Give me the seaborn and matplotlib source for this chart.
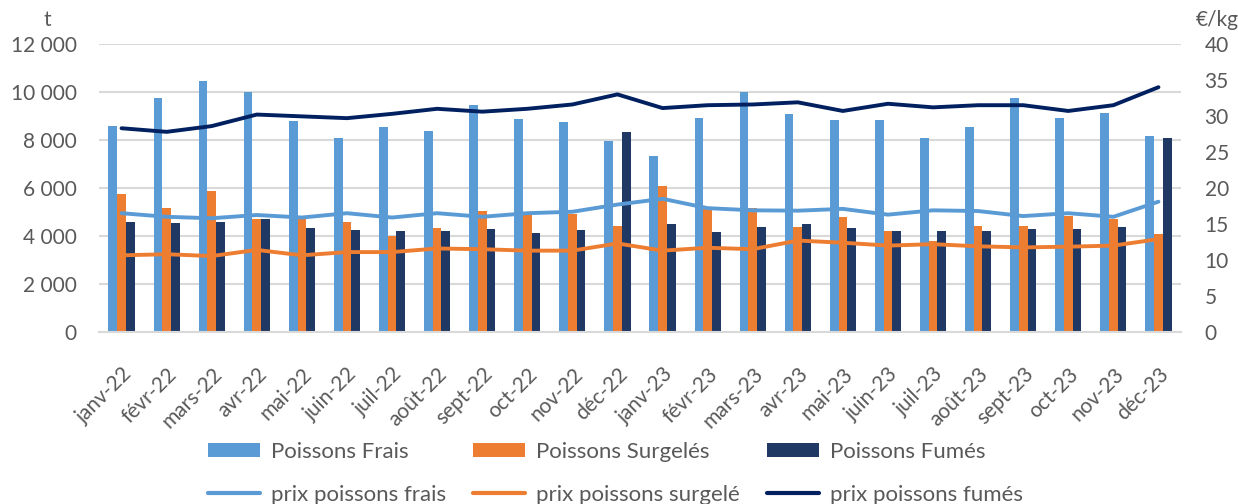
import numpy as np
import pandas as pd
import matplotlib
matplotlib.use("Agg")
import matplotlib.pyplot as plt
from matplotlib.ticker import FuncFormatter, MultipleLocator
from matplotlib.patches import Patch
from matplotlib.lines import Line2D
import seaborn as sns

months = ["janv-22", "févr-22", "mars-22", "avr-22", "mai-22", "juin-22", "juil-22", "août-22",
          "sept-22", "oct-22", "nov-22", "déc-22", "janv-23", "févr-23", "mars-23", "avr-23",
          "mai-23", "juin-23", "juil-23", "août-23", "sept-23", "oct-23", "nov-23", "déc-23"]

frais = [8580, 9760, 10470, 10010, 8800, 8100, 8560, 8380, 9470, 8860, 8740, 7970,
         7320, 8900, 9990, 9100, 8850, 8830, 8100, 8560, 9740, 8920, 9130, 8150]
surgeles = [5750, 5150, 5875, 4710, 4710, 4600, 4010, 4330, 5040, 4980, 4920, 4430,
            6070, 5110, 5170, 4360, 4790, 4210, 3810, 4420, 4420, 4830, 4720, 4100]
fumes = [4600, 4540, 4580, 4710, 4330, 4250, 4210, 4190, 4290, 4130, 4260, 8330,
         4480, 4180, 4390, 4510, 4330, 4220, 4220, 4210, 4280, 4280, 4360, 8080]

prix_frais = [16.5, 16.0, 15.8, 16.25, 15.9, 16.5, 15.9, 16.5, 16.0, 16.5, 16.7, 17.7,
              18.5, 17.2, 16.9, 16.85, 17.1, 16.3, 16.9, 16.8, 16.1, 16.5, 16.0, 18.1]
prix_surgele = [10.65, 10.8, 10.55, 11.4, 10.65, 11.1, 11.1, 11.6, 11.5, 11.3, 11.3, 12.3,
                11.3, 11.7, 11.5, 12.7, 12.4, 12.0, 12.2, 11.9, 11.75, 11.85, 12.0, 12.9]
prix_fumes = [28.3, 27.8, 28.6, 30.2, 29.95, 29.7, 30.3, 31.0, 30.6, 31.0, 31.6, 33.0,
              31.1, 31.5, 31.6, 31.9, 30.7, 31.7, 31.2, 31.5, 31.5, 30.7, 31.5, 34.0]

bar_names = ["Poissons Frais", "Poissons Surgelés", "Poissons Fumés"]
line_names = ["prix poissons frais", "prix poissons surgelé", "prix poissons fumés"]
bar_colors = ["#5B9BD5", "#ED7D31", "#203864"]
line_colors = ["#5B9BD5", "#ED7D31", "#002060"]

sns.set_style("white")
plt.rcParams["font.family"] = ["Lato", "DejaVu Sans"]
text_color = "#595959"
fs = 15

df = pd.DataFrame({
    "mois": months * 3,
    "tonnes": frais + surgeles + fumes,
    "type": sum([[n] * len(months) for n in bar_names], []),
})

fig = plt.figure(figsize=(12.38, 5.04), dpi=100)
ax = fig.add_axes([99 / 1238, 1 - 332 / 504, (1181 - 99) / 1238, (332 - 44) / 504])

sns.barplot(data=df, x="mois", y="tonnes", hue="type", hue_order=bar_names,
            palette=bar_colors, width=0.58, gap=0, ax=ax, saturation=1,
            linewidth=0, legend=False)

ax.set_ylim(0, 12000)
ax.set_xlim(-0.5, len(months) - 0.5)
ax.yaxis.set_major_locator(MultipleLocator(2000))
ax.yaxis.set_major_formatter(FuncFormatter(lambda v, p: f"{int(v):,}".replace(",", " ")))
ax.grid(axis="y", color="#D9D9D9", linewidth=1.5)
ax.set_axisbelow(True)
for s in ["top", "right", "left"]:
    ax.spines[s].set_visible(False)
ax.spines["bottom"].set_color("#D9D9D9")
ax.spines["bottom"].set_linewidth(1.5)
ax.set_xlabel("")
ax.set_ylabel("")
ax.tick_params(axis="y", labelsize=fs, colors=text_color, length=0, pad=16)
ax.tick_params(axis="x", labelsize=fs, colors=text_color, length=0, pad=23)
plt.setp(ax.get_xticklabels(), rotation=45, ha="right", rotation_mode="anchor")

ax2 = ax.twinx()
x_idx = np.arange(len(months))
for vals, col in zip([prix_frais, prix_surgele, prix_fumes], line_colors):
    sns.lineplot(x=x_idx, y=vals, color=col, linewidth=2.8, ax=ax2)
ax2.set_ylim(0, 40)
ax2.yaxis.set_major_locator(MultipleLocator(5))
for s in ["top", "right", "left", "bottom"]:
    ax2.spines[s].set_visible(False)
ax2.tick_params(axis="y", labelsize=fs, colors=text_color, length=0, pad=17)
ax2.set_ylabel("")

fig.text(47 / 1238, 1 - 20 / 504, "t", fontsize=fs, color=text_color, ha="center", va="center")
fig.text(1217 / 1238, 1 - 20 / 504, "€/kg", fontsize=fs, color=text_color, ha="center", va="center")

handles, labels = [], []
for bn, bc, ln, lc in zip(bar_names, bar_colors, line_names, line_colors):
    handles += [Patch(facecolor=bc, edgecolor="none"), Line2D([0], [0], color=lc, linewidth=3)]
    labels += [bn, ln]
fig.legend(handles, labels, ncol=3, loc="upper left", bbox_to_anchor=(208 / 1238, 1 - 442 / 504),
           frameon=False, fontsize=16, labelcolor=text_color, handlelength=2.35,
           handleheight=0.63, labelspacing=1.03, columnspacing=1.2, handletextpad=0.5,
           borderpad=0, borderaxespad=0)

fig.savefig("out.png", dpi=100)
